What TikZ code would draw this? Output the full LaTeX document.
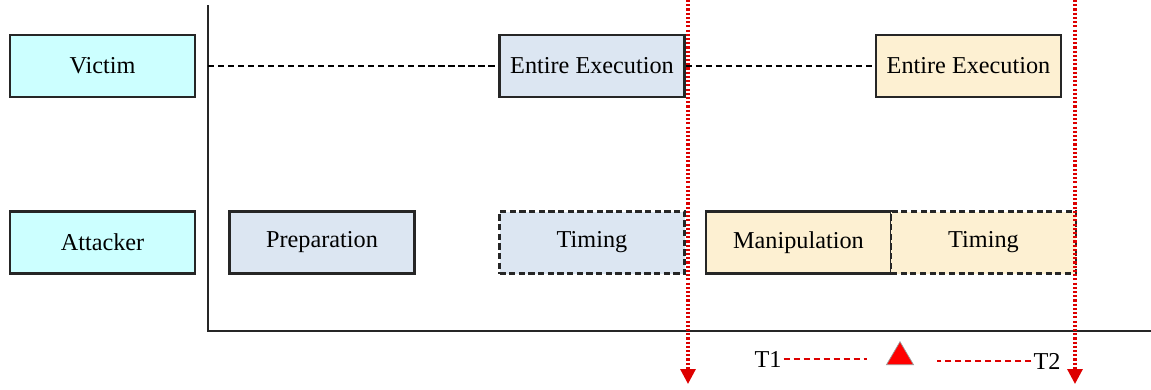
\documentclass[tikz,border=0pt]{standalone}
\usepackage{fontspec}
\setmainfont{Liberation Serif}
\usetikzlibrary{arrows.meta, shapes.geometric}
\definecolor{actorfill}{HTML}{CCFFFF}
\definecolor{bluefill}{HTML}{DCE6F2}
\definecolor{yellowfill}{HTML}{FDF0D2}
\definecolor{markred}{HTML}{DD0000}
\tikzset{
  phase/.style={
    draw=black!85,
    line width=1.5pt,
    minimum width=3.7cm,
    minimum height=1.24cm,
    inner sep=0pt,
    font=\fontsize{13.8}{16}\selectfont
  },
  phasedash/.style={
    phase,
    line width=1.2pt,
    dash pattern=on 3.5pt off 2pt
  },
  timeline/.style={
    line width=1pt,
    dash pattern=on 3.5pt off 2.2pt
  },
  marker/.style={
    markred,
    line width=1.8pt,
    dash pattern=on 1.2pt off 1.2pt,
    -{Triangle[width=0.3cm, length=0.3cm]}
  },
  gapline/.style={
    markred,
    line width=1.1pt,
    dash pattern=on 3.5pt off 2.2pt
  }
}

\begin{document}
\begin{tikzpicture}[every node/.style={font=\fontsize{13.8}{16}\selectfont}]
\useasboundingbox (0,0) rectangle (23.02,7.78);

% actors
\node[phase, fill=actorfill] (Victim) at (2.05,6.46) {Victim};
\node[phase, fill=actorfill] (Attacker) at (2.05,2.93) {Attacker};

% axes
\coordinate (Origin) at (4.16,1.16);
\coordinate (Ytop) at (4.16,7.68);
\coordinate (Xend) at (23.02,1.16);
\coordinate (Vstart) at (4.16,6.46);
\draw[line width=1.4pt, black!85] (Ytop) -- (Origin) -- (Xend);

% victim row
\node[phase, fill=bluefill] (Exec1) at (11.84,6.46) {Entire Execution};
\node[phase, fill=yellowfill] (Exec2) at (19.37,6.46) {Entire Execution};

% attacker row
\node[phase, fill=bluefill] (Prep) at (6.44,2.93) {Preparation};
\node[phasedash, fill=bluefill] (Timing1) at (11.84,2.93) {Timing};
\node[phase, fill=yellowfill] (Manip) at (15.97,2.93) {Manipulation};
\node[phasedash, fill=yellowfill] (Timing2) at (19.67,2.93) {Timing};

\path (Vstart) edge[timeline] (Exec1.west)
      (Exec1.east) edge[timeline] (Exec2.west);

% time markers
\coordinate (T1top) at (13.76,7.78);
\coordinate (T1bot) at (13.76,0.1);
\coordinate (T2top) at (21.5,7.78);
\coordinate (T2bot) at (21.5,0.1);
\draw[marker] (T1top) -- (T1bot);
\draw[marker] (T2top) -- (T2bot);

\node[inner sep=1pt] (T1) at (15.36,0.6) {T1};
\node[inner sep=1pt] (T2) at (20.94,0.56) {T2};
\node[draw=black!40, fill=red, isosceles triangle, isosceles triangle stretches,
      shape border rotate=90, minimum width=0.54cm, minimum height=0.46cm,
      inner sep=0pt] (Tri) at (18.0,0.64) {};

\path (T1.east) edge[gapline, shorten >=0.38cm] (Tri.left corner |- T1.east)
      (T2.west) edge[gapline, shorten >=0.45cm] (Tri.right corner |- T2.west);
\end{tikzpicture}
\end{document}
